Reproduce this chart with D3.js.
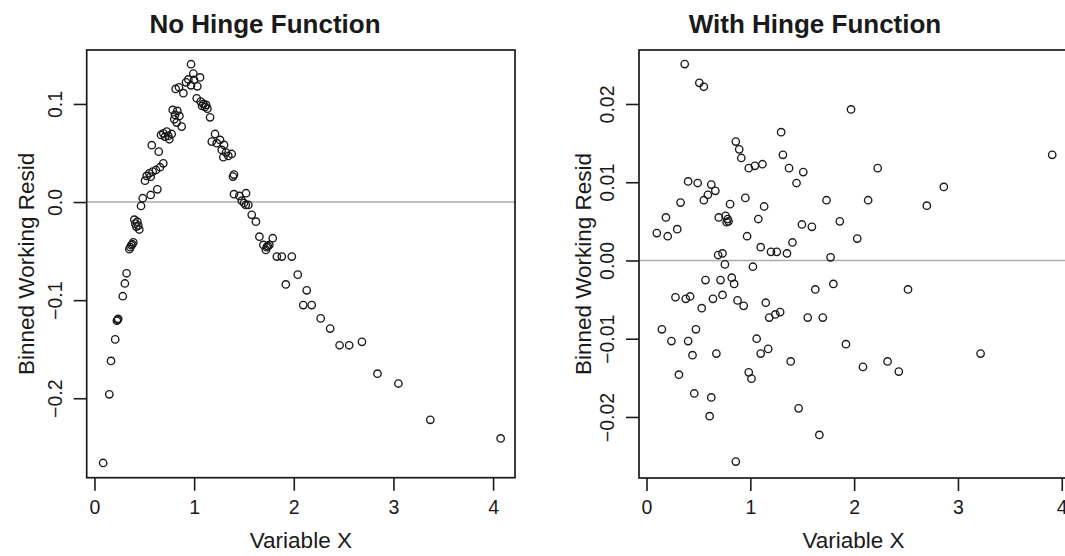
<!DOCTYPE html>
<html>
<head>
<meta charset="utf-8">
<script src="https://cdn.jsdelivr.net/npm/d3@7"></script>
<style>
  html, body { margin: 0; padding: 0; background: #fff; }
  svg { display: block; font-family: "Liberation Sans", Arial, Helvetica, sans-serif; }
</style>
</head>
<body>
<svg id="chart" width="1065" height="556"></svg>
<script>
// Binned working residuals against Variable X, without and with a hinge term.
const panelTitles = ["No Hinge Function", "With Hinge Function"];
const xAxisTitle = "Variable X";
const yAxisTitle = "Binned Working Resid";
const xTicks = [0, 1, 2, 3, 4];
const yTicksNoHinge = [-0.2, -0.1, 0, 0.1];
const yTicksHinge = [-0.02, -0.01, 0, 0.01, 0.02];

const noHingeX = [
  0.087, 0.149, 0.166, 0.208, 0.225, 0.232, 0.238, 0.284, 0.305, 0.322,
  0.35, 0.36, 0.37, 0.38, 0.39, 0.40, 0.41, 0.42, 0.43, 0.44, 0.45,
  0.467, 0.484, 0.564, 0.631, 0.507, 0.524, 0.55, 0.564, 0.584, 0.617, 0.658,
  0.691, 0.575, 0.645, 0.668, 0.691, 0.708, 0.725, 0.741, 0.751, 0.775,
  0.785, 0.832, 0.808, 0.852, 0.801, 0.825, 0.875,
  0.815, 0.848, 0.892, 0.919, 0.942, 0.969, 0.999, 1.032, 1.059, 0.969, 0.992,
  1.026, 1.066, 1.08, 1.093, 1.109, 1.12, 1.133, 1.16,
  1.21, 1.177, 1.227, 1.26, 1.30, 1.277, 1.32, 1.343, 1.293, 1.377,
  1.39, 1.40, 1.40, 1.454, 1.521, 1.478, 1.518, 1.544, 1.50,
  1.578, 1.62, 1.655, 1.789, 1.695, 1.728, 1.755, 1.72, 1.74,
  1.83, 1.88, 1.98, 1.92, 2.04, 2.13, 2.095, 2.18, 2.27, 2.365,
  2.46, 2.556, 2.684, 2.84, 3.05, 3.37, 4.076
];
const noHingeResid = [
  -0.266, -0.196, -0.162, -0.140, -0.121, -0.120, -0.119, -0.096, -0.083, -0.0726,
  -0.048, -0.046, -0.044, -0.043, -0.041, -0.018, -0.022, -0.025, -0.020, -0.024, -0.028,
  -0.004, 0.0039, 0.0072, 0.013, 0.0218, 0.0266, 0.0293, 0.0259, 0.031, 0.0327, 0.0355,
  0.0395, 0.058, 0.0514, 0.0684, 0.0701, 0.0667, 0.0718, 0.0674, 0.064, 0.0694,
  0.0939, 0.0929, 0.0888, 0.0878, 0.0844, 0.081, 0.0769,
  0.1153, 0.117, 0.111, 0.122, 0.125, 0.119, 0.1245, 0.118, 0.127, 0.1405, 0.131,
  0.1058, 0.1024, 0.098, 0.100, 0.097, 0.099, 0.0952, 0.0864,
  0.0694, 0.0616, 0.060, 0.0633, 0.0582, 0.0531, 0.0504, 0.047, 0.0457, 0.049,
  0.026, 0.028, 0.008, 0.0062, 0.009, 0.0014, -0.003, -0.003, -0.001,
  -0.013, -0.020, -0.0353, -0.0369, -0.0437, -0.046, -0.0437, -0.0488, -0.045,
  -0.0556, -0.0556, -0.0556, -0.084, -0.074, -0.090, -0.105, -0.105, -0.1186, -0.129,
  -0.146, -0.146, -0.1425, -0.175, -0.185, -0.222, -0.241
];

const hingeX = [
  0.368, 0.509, 0.552, 1.97, 1.297, 0.86, 0.893, 0.913, 1.314, 0.985, 1.044, 1.117,
  1.373, 1.51, 2.227, 3.908, 2.864, 0.401, 0.493, 0.624, 0.591, 0.663, 0.552,
  1.445, 0.328, 0.952, 0.805, 1.133, 1.734, 2.135, 2.70, 0.187, 0.696,
  0.762, 0.782, 0.772, 0.79, 1.077, 1.497, 1.593, 1.862, 0.099, 0.204, 0.296,
  0.969, 2.03, 1.406, 1.10, 1.199, 1.255, 1.353, 1.773, 0.69, 0.732, 0.755, 1.025,
  0.568, 0.713, 0.821, 0.844, 1.80, 1.626, 2.519, 0.279, 0.378, 0.42, 0.64, 0.732,
  0.532, 0.877, 0.936, 1.149, 1.182, 1.241, 1.287, 1.553, 1.698, 0.148, 0.476,
  0.24, 0.401, 1.061, 1.921, 0.443, 0.673, 1.10, 1.172, 3.218, 1.389, 2.322,
  2.085, 2.43, 0.312, 0.985, 1.011, 0.46, 0.624, 0.608, 1.465, 1.665, 0.86
];
const hingeResid = [
  0.0251, 0.0227, 0.0222, 0.0193, 0.0164, 0.0152, 0.0142, 0.0131, 0.0135, 0.0118, 0.0121, 0.0123,
  0.0118, 0.0113, 0.0118, 0.0135, 0.0094, 0.0101, 0.0099, 0.0097, 0.0084, 0.0089, 0.0077,
  0.0099, 0.0074, 0.0080, 0.0072, 0.0069, 0.0077, 0.0077, 0.0070, 0.0055, 0.0055,
  0.0057, 0.0053, 0.0049, 0.0050, 0.0053, 0.0046, 0.0043, 0.0050, 0.0035, 0.0031, 0.0040,
  0.0031, 0.0028, 0.0023, 0.0017, 0.0011, 0.0011, 0.0009, 0.0004, 0.0007, 0.0009, -0.0005, -0.0008,
  -0.0025, -0.0025, -0.0022, -0.0030, -0.0030, -0.0037, -0.0037, -0.0047, -0.0049, -0.0046, -0.0049, -0.0044,
  -0.0061, -0.0051, -0.0058, -0.0054, -0.0073, -0.0069, -0.0066, -0.0073, -0.0073, -0.0088, -0.0088,
  -0.0103, -0.0103, -0.0100, -0.0107, -0.0121, -0.0119, -0.0119, -0.0113, -0.0119, -0.0129, -0.0129,
  -0.0136, -0.0142, -0.0146, -0.0143, -0.0151, -0.0170, -0.0175, -0.0199, -0.0189, -0.0223, -0.0257
];

const svg = d3.select("#chart");
const ink = "#1a1a1a";
const tickFont = 19.5;
const labelFont = 22.5;

const panels = [
  {
    title: panelTitles[0], titleX: 265,
    left: 86.7, right: 515, top: 50, bottom: 477.7,
    xDomain: [-0.078, 4.22], yDomain: [-0.281, 0.155],
    yTicks: yTicksNoHinge, yFormat: d3.format(".1f"),
    ylabX: 34,
    xs: noHingeX, ys: noHingeResid
  },
  {
    title: panelTitles[1], titleX: 815,
    left: 639, right: 1068, top: 50, bottom: 478,
    xDomain: [-0.0723, 4.06], yDomain: [-0.0278, 0.0269],
    yTicks: yTicksHinge, yFormat: d3.format(".2f"),
    ylabX: 591,
    xs: hingeX, ys: hingeResid
  }
];

panels.forEach(p => {
  const x = d3.scaleLinear().domain(p.xDomain).range([p.left, p.right]);
  const y = d3.scaleLinear().domain(p.yDomain).range([p.bottom, p.top]);
  const g = svg.append("g");

  // zero reference line
  g.append("line")
    .attr("x1", p.left).attr("x2", p.right)
    .attr("y1", y(0)).attr("y2", y(0))
    .attr("stroke", "#ababab").attr("stroke-width", 1.6);

  // points
  const pts = p.xs.map((v, i) => ({ x: v, y: p.ys[i] }));
  g.append("g").selectAll("circle").data(pts).join("circle")
    .attr("cx", d => x(d.x)).attr("cy", d => y(d.y))
    .attr("r", 3.7)
    .attr("fill", "none").attr("stroke", ink).attr("stroke-width", 1.35);

  // plot frame
  g.append("rect")
    .attr("x", p.left).attr("y", p.top)
    .attr("width", p.right - p.left).attr("height", p.bottom - p.top)
    .attr("fill", "none").attr("stroke", ink).attr("stroke-width", 1.7);

  // bottom axis
  const gx = g.append("g")
    .attr("transform", `translate(0,${p.bottom})`)
    .call(d3.axisBottom(x).tickValues(xTicks).tickFormat(d3.format("d"))
      .tickSize(13).tickSizeOuter(0).tickPadding(9));
  gx.select(".domain").remove();
  gx.selectAll("line").attr("stroke", ink).attr("stroke-width", 1.6);
  gx.selectAll("text").attr("font-size", tickFont).attr("fill", ink)
    .attr("font-family", "Liberation Sans, Arial, sans-serif");

  // left axis with rotated labels
  const gy = g.append("g")
    .attr("transform", `translate(${p.left},0)`)
    .call(d3.axisLeft(y).tickValues(p.yTicks).tickFormat(p.yFormat)
      .tickSize(13).tickSizeOuter(0));
  gy.select(".domain").remove();
  gy.selectAll("line").attr("stroke", ink).attr("stroke-width", 1.6);
  gy.selectAll("text")
    .attr("x", null).attr("dy", null)
    .attr("transform", "translate(-25,0) rotate(-90)")
    .attr("text-anchor", "middle")
    .attr("font-size", tickFont).attr("fill", ink)
    .attr("font-family", "Liberation Sans, Arial, sans-serif");

  // axis titles
  g.append("text")
    .attr("x", (p.left + Math.min(p.right, 1068)) / 2 + (p === panels[1] ? 0 : 0))
    .attr("y", 548)
    .attr("text-anchor", "middle")
    .attr("font-size", labelFont).attr("fill", ink)
    .text(xAxisTitle);
  g.append("text")
    .attr("transform", `translate(${p.ylabX},${(p.top + p.bottom) / 2}) rotate(-90)`)
    .attr("text-anchor", "middle")
    .attr("font-size", labelFont).attr("fill", ink)
    .text(yAxisTitle);

  // panel title
  g.append("text")
    .attr("x", p.titleX).attr("y", 33)
    .attr("text-anchor", "middle")
    .attr("font-size", 26).attr("font-weight", "bold").attr("fill", ink)
    .text(p.title);
});
</script>
</body>
</html>
